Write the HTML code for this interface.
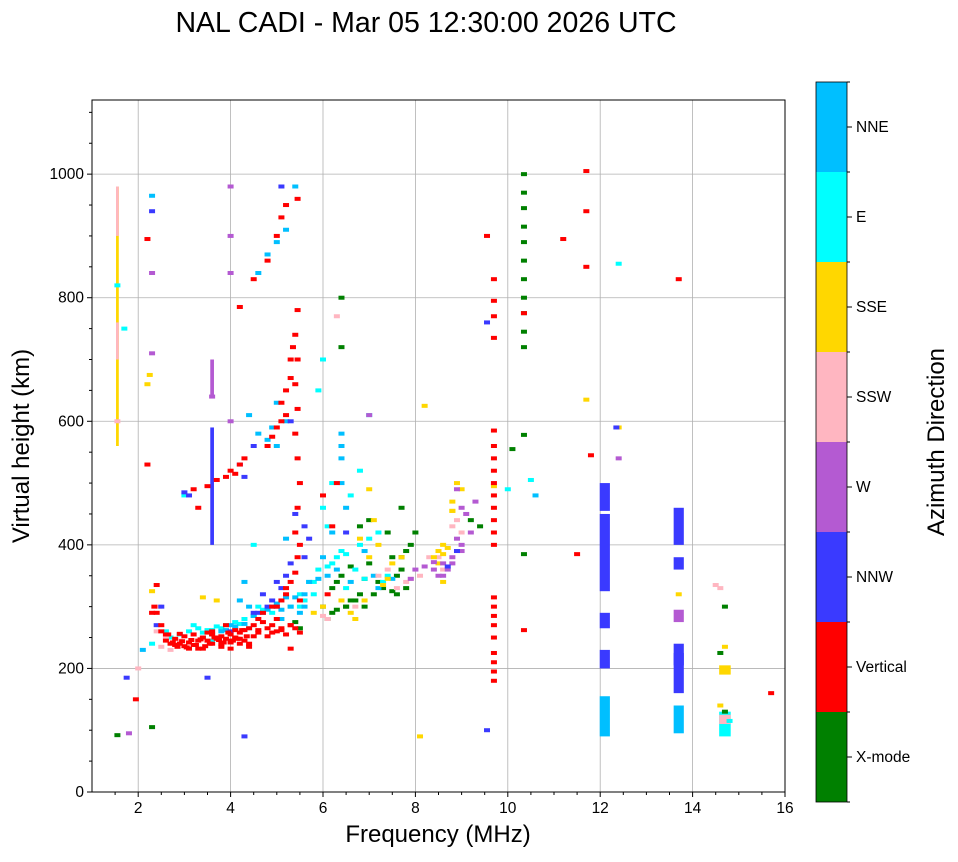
<!DOCTYPE html>
<html><head><meta charset="utf-8"><style>
body{margin:0;background:#fff;font-family:"Liberation Sans",sans-serif;}
svg text{font-family:"Liberation Sans",sans-serif;fill:#000;}
</style></head><body>
<svg id="chart" width="958" height="857" xmlns="http://www.w3.org/2000/svg">
<text x="426" y="32" font-size="28.5" text-anchor="middle">NAL CADI - Mar 05 12:30:00 2026 UTC</text>
<g id="grid"></g>
<g id="marks"></g>
<g id="axes"></g>
<text x="438" y="842" font-size="24" text-anchor="middle">Frequency (MHz)</text>
<text transform="translate(29,446) rotate(-90)" font-size="24" text-anchor="middle">Virtual height (km)</text>
<g id="cbar"></g>
<text transform="translate(944,442) rotate(-90)" font-size="24" text-anchor="middle">Azimuth Direction</text>
</svg>
<script>
const xTicks=[2,4,6,8,10,12,14,16];
const yTicks=[0,200,400,600,800,1000];
const dirNames=["X-mode","Vertical","NNW","W","SSW","SSE","E","NNE"];
const dirColors=["#008000","#ff0000","#3a3aff","#b45ad2","#ffb6c1","#ffd700","#00ffff","#00bfff"];
// series per direction: frequency (MHz) and virtual height (km)
const xmodeF=[6.1,6.3,6.5,6.7,6.9,7.1,7.3,7.5,7.6,7.7,7.8,7.9,8.0,6.4,6.4,6.4,6.6,6.8,7.0,7.4,7.7,9.4,9.2,10.35,10.35,10.35,10.35,10.35,10.35,10.35,10.35,10.35,10.35,10.35,10.35,10.35,10.1,14.7,14.6,14.7,5.4,5.5,2.3,6.2,7.0,6.9,7.6,6.3,1.55,6.5,6.6,6.8,7.2,7.5,7.7,7.8,6.2,6.0];
const xmodeH=[280,295,300,310,300,320,330,325,350,380,390,400,420,800,720,350,365,430,440,420,460,430,440,385,578,720,745,775,800,830,860,890,915,945,970,1000,555,300,225,130,275,265,105,330,370,345,320,340,92,300,310,320,340,380,360,330,290,300];
const vertF=[2.6,2.7,2.8,2.9,3.0,3.1,3.2,3.3,3.4,3.5,3.6,3.7,3.8,3.9,4.0,4.1,4.2,4.3,3.0,3.2,3.5,2.8,4.0,4.2,4.4,4.5,4.6,4.7,4.8,4.9,5.0,5.1,5.2,5.3,5.4,5.5,4.6,5.0,3.8,4.4,5.0,5.1,5.2,5.3,5.4,5.45,5.5,5.4,5.45,5.5,5.45,5.4,5.45,5.4,5.45,5.4,5.45,3.2,3.5,3.7,3.9,4.0,4.1,4.2,4.3,4.8,4.9,5.0,5.1,5.2,5.1,5.2,5.3,5.3,5.35,4.2,4.5,4.8,5.0,5.1,5.2,5.45,9.7,9.7,9.7,9.7,9.7,9.7,9.7,9.7,9.7,9.7,9.7,9.7,9.7,9.7,9.7,9.7,9.7,9.7,9.7,9.7,9.7,9.7,9.7,9.55,11.7,11.7,11.2,11.7,11.5,11.8,2.2,2.2,1.95,15.7,10.35,10.35,13.7,2.4,2.5,2.3,2.35,6.1,6.2,6.0,6.3,3.3,3.6,3.9,4.1,2.65,2.75,2.85,2.95,3.05,3.15,3.25,3.35,3.45,3.55,3.65,3.75,3.85,3.95,4.05,4.15,4.25,4.35,2.9,3.1,3.3,3.4,3.6,3.8,4.0,4.1,4.3,4.5,4.6,4.8,4.9,5.1,5.3,2.4,2.5,2.6,3.7,4.0,4.2,4.4,5.3,5.2,5.5,4.9,4.7];
const vertH=[245,240,238,240,236,242,238,245,250,245,255,250,252,248,255,250,258,262,252,255,258,248,245,248,265,270,262,275,265,270,260,265,255,270,265,258,280,280,235,240,300,310,320,340,355,380,400,420,460,500,540,580,620,660,700,740,780,490,495,505,510,520,515,530,540,560,575,590,600,610,630,650,670,700,720,785,830,860,900,930,950,960,180,195,210,225,250,270,285,300,315,400,420,440,460,480,500,520,540,560,585,735,770,795,830,900,850,1005,895,940,385,545,530,895,150,160,262,775,830,335,270,290,300,320,430,480,500,460,260,270,250,255,242,235,244,234,246,238,247,236,240,250,246,242,258,245,248,262,252,256,232,232,232,240,240,242,262,245,252,258,252,258,262,270,290,260,255,248,232,240,235,232,330,310,300,290,285];
const nnwF=[2.3,2.4,4.5,12.35,9.55,9.55,1.75,3.5,4.3,2.5,6.5,8.7,8.9,4.6,4.8,4.9,5.1,5.2,5.3,4.7,5.0,5.4,5.3,5.1,3.1,3.0,4.0,5.6,5.7,5.6,4.3,4.5,5.0,4.2];
const nnwH=[940,270,290,590,760,100,185,185,90,300,420,365,390,290,300,310,330,350,370,320,340,450,600,980,480,485,260,430,410,380,510,560,300,530];
const wF=[8.5,8.7,8.8,9.0,9.2,9.3,8.6,1.8,3.6,12.4,13.7,8.0,7.9,8.2,8.4,9.1,2.3,4.0,4.0,4.0,4.0,2.3,7.0,8.9,9.0,8.4,8.6,8.8,9.0,8.9];
const wH=[350,360,370,400,420,470,370,95,640,540,290,360,345,365,360,450,840,980,900,840,600,710,610,490,460,372,350,380,390,410];
const sswF=[7.8,7.6,8.5,8.9,14.5,6.0,2.7,1.55,2.0,6.3,8.3,8.6,9.0,7.2,6.7,2.5,2.9,14.6,8.8,7.4,7.9,8.1,6.1,2.45,2.6,2.4];
const sswH=[340,330,380,440,335,285,230,600,200,770,380,360,420,350,300,235,245,330,430,360,345,350,280,300,250,260];
const sseF=[8.4,8.5,8.6,8.8,8.9,9.0,7.0,7.2,7.5,3.7,13.7,12.4,11.7,8.2,7.0,5.8,6.0,2.3,2.2,8.1,8.6,8.8,7.1,6.8,7.7,3.4,9.7,14.7,14.6,8.5,8.6,8.7,8.8,7.3,7.4,6.9,6.6,6.7,6.4,2.25];
const sseH=[380,390,400,470,500,490,380,400,370,310,320,590,635,625,490,290,300,325,660,90,340,455,440,410,380,315,495,235,140,370,385,395,455,335,345,310,290,280,310,675];
const eF=[2.7,2.9,3.1,3.3,3.5,3.7,3.9,4.1,4.3,4.5,4.7,4.9,5.5,5.6,5.8,5.9,6.1,6.3,6.5,6.8,7.0,7.2,6.0,6.2,6.8,7.0,5.9,6.0,10.5,10.0,14.8,2.3,2.6,3.0,4.5,1.55,1.7,6.4,6.6,7.4,3.2,3.6,4.4,12.4,3.4,3.6,3.8,4.2,4.6,5.3,5.5,5.7,6.2,6.5,6.9,7.3,6.1,5.8,6.7];
const eH=[250,255,260,265,262,268,270,275,280,285,295,290,300,310,340,360,365,380,385,400,410,420,460,500,520,610,650,700,505,490,115,240,260,480,400,820,750,390,480,350,270,245,265,855,258,262,265,272,300,300,320,340,370,330,345,340,430,320,360];
const nneF=[4.6,4.8,5.0,5.2,5.4,4.4,4.6,4.8,4.9,5.0,3.8,4.0,4.2,4.4,5.1,5.3,5.6,5.7,6.4,6.4,6.4,6.4,6.5,6.2,6.6,7.1,10.6,2.3,2.1,5.2,5.0,6.0,3.4,4.3,5.2,4.7,4.9,5.1,5.4,5.6,3.6,3.9,4.1,4.3,4.5,4.8,5.0,5.2,5.9,6.1,6.3,6.9,7.2,7.5,5.5];
const nneH=[840,870,890,910,980,610,580,570,590,560,260,270,310,300,280,300,320,340,580,560,540,500,460,420,340,350,480,965,230,600,630,380,250,340,410,290,300,295,315,300,255,262,268,272,285,295,305,315,345,350,360,390,330,345,290];
// vertical columns: frequency, low height, high height, direction index, bandwidth MHz
const colF=[1.55,1.55,1.55,3.6,3.6,12.1,12.1,12.1,12.1,12.1,13.7,13.7,13.7,13.7,13.7,13.7,14.7,14.7,14.7];
const colLo=[560,700,900,400,640,325,455,200,265,90,400,360,160,95,275,205,190,90,110];
const colHi=[980,760,980,590,700,450,500,230,290,155,460,380,240,140,295,225,205,130,125];
const colDir=[5,4,4,2,3,2,2,2,2,7,2,2,2,7,3,2,5,6,4];
const colBw=[0.06,0.06,0.06,0.08,0.08,0.22,0.22,0.22,0.22,0.22,0.22,0.22,0.22,0.22,0.22,0.22,0.25,0.25,0.25];

const X0=92,X1=785,Y0=792,Y1=100;
const fx=f=>X0+(f-1)/15*(X1-X0);
const hy=h=>Y0-h/1120*(Y0-Y1);
const NS="http://www.w3.org/2000/svg";
function mk(tag,attrs,parent){const e=document.createElementNS(NS,tag);for(const k in attrs)e.setAttribute(k,attrs[k]);parent.appendChild(e);return e;}
const grid=document.getElementById('grid'),marks=document.getElementById('marks'),axes=document.getElementById('axes'),cbar=document.getElementById('cbar');
for(const t of xTicks){if(t<16){const l=mk('line',{x1:fx(t),x2:fx(t),y1:Y1,y2:Y0,stroke:'#b0b0b0','stroke-width':0.8},grid);

}}
for(const t of yTicks){if(t>0){const l=mk('line',{x1:X0,x2:X1,y1:hy(t),y2:hy(t),stroke:'#b0b0b0','stroke-width':0.8},grid);

}}
colF.forEach((f,i)=>{const w=colBw[i]/15*(X1-X0);const r=mk('rect',{x:fx(f)-w/2,y:hy(colHi[i]),width:w,height:hy(colLo[i])-hy(colHi[i]),fill:dirColors[colDir[i]]},marks);

});
const series=[[xmodeF,xmodeH],[eF,eH],[nneF,nneH],[sswF,sswH],[sseF,sseH],[wF,wH],[nnwF,nnwH],[vertF,vertH]];
const seriesDir=[0,6,7,4,5,3,2,1];
series.forEach((s,k)=>{const d=seriesDir[k];s[0].forEach((f,i)=>{const r=mk('rect',{x:fx(f)-3,y:hy(s[1][i])-2,width:6,height:4,fill:dirColors[d]},marks);

});});
mk('rect',{x:X0,y:Y1,width:X1-X0,height:Y0-Y1,fill:'none',stroke:'#000','stroke-width':1},axes);
for(const t of xTicks){mk('line',{x1:fx(t),x2:fx(t),y1:Y0,y2:Y0+5,stroke:'#000'},axes);
const tx=mk('text',{x:fx(t),y:Y0+21,'font-size':15.5,'text-anchor':'middle'},axes);tx.textContent=t;

}
for(let f=1.5;f<16;f+=0.5){if(f%2!==0)mk('line',{x1:fx(f),x2:fx(f),y1:Y0,y2:Y0+3,stroke:'#000'},axes);}
for(const t of yTicks){mk('line',{x1:X0-5,x2:X0,y1:hy(t),y2:hy(t),stroke:'#000'},axes);
const tx=mk('text',{x:X0-8,y:hy(t)+5,'font-size':15.5,'text-anchor':'end'},axes);tx.textContent=t;

}
for(let h=50;h<1120;h+=50){if(h%200!==0)mk('line',{x1:X0-3,x2:X0,y1:hy(h),y2:hy(h),stroke:'#000'},axes);}
const CB0=82,CBH=90;
dirNames.forEach((n,i)=>{const y=CB0+(7-i)*CBH;
const r=mk('rect',{x:816,y:y,width:31,height:CBH,fill:dirColors[i]},cbar);


mk('line',{x1:847,x2:852,y1:y+45,y2:y+45,stroke:'#000'},cbar);
const t=mk('text',{x:856,y:y+50,'font-size':15.5},cbar);t.textContent=n;

});
for(let i=0;i<=8;i++){mk('line',{x1:847,x2:850,y1:CB0+i*CBH,y2:CB0+i*CBH,stroke:'#000'},cbar);}
mk('rect',{x:816,y:CB0,width:31,height:CBH*8,fill:'none',stroke:'#000','stroke-width':0.8},cbar);
</script>
</body></html>
